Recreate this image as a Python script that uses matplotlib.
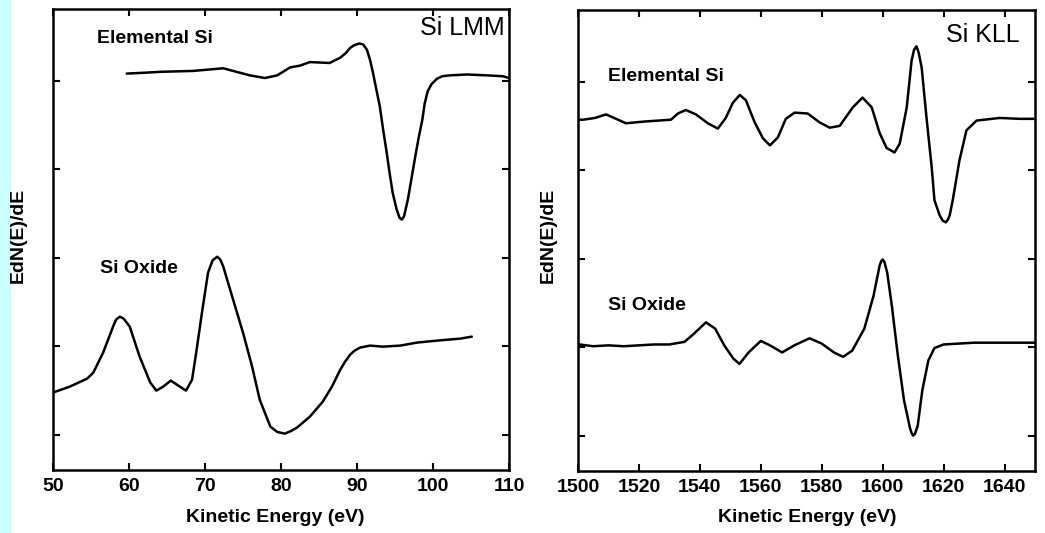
import matplotlib
matplotlib.use("Agg")
import matplotlib.pyplot as plt
from matplotlib.patches import Rectangle

plt.rcParams['font.family'] = ['Liberation Sans', 'DejaVu Sans']

# ---- Si LMM (left panel) ----
lmm_elem_E = [59.7, 62.1, 64.1, 68.4, 72.4, 73.7, 75.9, 77.9, 79.5, 81.2, 82.5, 83.8,
              86.4, 87.8, 88.5, 89.1, 89.6, 90.3, 90.8, 91.3, 91.7, 92.1, 92.5, 93.0,
              93.4, 93.9, 94.3, 94.7, 95.2, 95.6, 95.9, 96.2, 96.7, 97.1, 97.6, 98.1,
              98.6, 98.9, 99.3, 99.8, 100.5, 101.2, 102.2, 104.5, 107.1, 109.2, 110.0]
lmm_elem_I = [4.08, 4.09, 4.10, 4.11, 4.14, 4.11, 4.06, 4.03, 4.06, 4.15, 4.17, 4.21,
              4.20, 4.26, 4.31, 4.37, 4.40, 4.42, 4.41, 4.35, 4.24, 4.09, 3.92, 3.71,
              3.47, 3.19, 2.95, 2.73, 2.55, 2.45, 2.43, 2.47, 2.66, 2.86, 3.11, 3.35,
              3.56, 3.74, 3.88, 3.96, 4.02, 4.05, 4.06, 4.07, 4.06, 4.05, 4.03]

lmm_ox_E = [50.0, 52.2, 54.5, 55.3, 56.6, 57.9, 58.3, 58.8, 59.3, 60.1, 61.4, 62.8,
            63.6, 64.5, 65.5, 66.7, 67.5, 68.3, 68.9, 69.6, 70.4, 71.0, 71.6, 72.0,
            72.4, 73.7, 75.0, 76.2, 77.2, 78.6, 79.5, 80.5, 81.3, 82.1, 83.8, 85.5,
            86.7, 87.8, 88.4, 89.1, 89.7, 90.4, 91.7, 93.4, 95.7, 97.9, 100.5, 103.6,
            105.1]
lmm_ox_I = [0.475, 0.542, 0.633, 0.70, 0.927, 1.22, 1.30, 1.333, 1.31, 1.22, 0.881,
            0.588, 0.497, 0.542, 0.61, 0.542, 0.497, 0.621, 0.96, 1.379, 1.83, 1.97,
            2.01, 1.98, 1.90, 1.525, 1.153, 0.768, 0.395, 0.09, 0.03, 0.011, 0.04,
            0.079, 0.203, 0.373, 0.542, 0.734, 0.82, 0.904, 0.95, 0.983, 1.006, 0.994,
            1.006, 1.04, 1.062, 1.085, 1.107]

lmm_xticks = [50, 60, 70, 80, 90, 100, 110]

# ---- Si KLL (right panel) ----
kll_elem_E = [1500.7, 1501.6, 1505.6, 1509.2, 1512.5, 1515.7, 1522.0, 1530.5, 1532.8,
              1535.4, 1538.7, 1542.6, 1545.9, 1548.5, 1550.8, 1553.1, 1555.1, 1558.0,
              1560.7, 1563.0, 1565.6, 1568.2, 1571.1, 1575.4, 1579.3, 1582.6, 1585.9,
              1590.2, 1593.4, 1596.4, 1599.0, 1601.3, 1603.9, 1605.6, 1607.9, 1609.5,
              1610.3, 1611.1, 1611.8, 1612.8, 1614.4, 1616.1, 1617.0, 1618.7, 1619.7,
              1620.7, 1621.4, 1622.0, 1623.0, 1625.2, 1627.5, 1630.8, 1638.4, 1644.9,
              1649.5]
kll_elem_I = [3.57, 3.57, 3.59, 3.63, 3.58, 3.53, 3.55, 3.57, 3.64, 3.68, 3.63, 3.53,
              3.47, 3.59, 3.76, 3.85, 3.79, 3.54, 3.36, 3.28, 3.37, 3.58, 3.65, 3.64,
              3.54, 3.48, 3.50, 3.71, 3.82, 3.71, 3.42, 3.25, 3.20, 3.30, 3.71, 4.24,
              4.36, 4.40, 4.33, 4.16, 3.59, 3.03, 2.66, 2.49, 2.43, 2.41, 2.44, 2.49,
              2.66, 3.11, 3.45, 3.56, 3.59, 3.58, 3.58]

kll_ox_E = [1500.5, 1505, 1510, 1515, 1520, 1525, 1530, 1535, 1538, 1542, 1545, 1548,
            1551, 1553, 1556, 1560, 1563, 1567, 1571, 1576, 1580, 1584, 1587, 1590,
            1594, 1597, 1599, 1599.5, 1600, 1600.6, 1601.5, 1603, 1605, 1607, 1609,
            1609.5, 1610, 1610.6, 1611.5, 1613, 1615, 1617, 1620, 1630, 1640, 1650]
kll_ox_I = [1.03, 1.01, 1.02, 1.01, 1.02, 1.03, 1.03, 1.06, 1.15, 1.28, 1.21, 1.02,
            0.87, 0.81, 0.94, 1.07, 1.02, 0.94, 1.02, 1.10, 1.04, 0.94, 0.89, 0.96,
            1.21, 1.58, 1.92, 1.97, 1.99, 1.96, 1.84, 1.47, 0.90, 0.40, 0.08, 0.03,
            0.00, 0.02, 0.11, 0.51, 0.85, 0.99, 1.03, 1.05, 1.05, 1.05]

kll_xticks = [1500, 1520, 1540, 1560, 1580, 1600, 1620, 1640]

y_ticks = [0, 1, 2, 3, 4]

W, H = 1045, 533
fig = plt.figure(figsize=(W / 100, H / 100), dpi=100)
fig.patch.set_facecolor('white')

# cyan margin strip at the left edge
fig.patches.append(Rectangle((0, 0), 11 / W, 1, transform=fig.transFigure,
                             facecolor='#ccffff', edgecolor='none', zorder=0))

ax1 = fig.add_axes([53 / W, (H - 470) / H, 456 / W, 461 / H])
ax2 = fig.add_axes([578 / W, (H - 471) / H, 457 / W, 461 / H])

line_kw = dict(color='black', lw=1.8, solid_joinstyle='round', solid_capstyle='round')
ax1.plot(lmm_elem_E, lmm_elem_I, **line_kw)
ax1.plot(lmm_ox_E, lmm_ox_I, **line_kw)
ax2.plot(kll_elem_E, kll_elem_I, **line_kw)
ax2.plot(kll_ox_E, kll_ox_I, **line_kw)

ax1.set_xlim(50, 110)
ax2.set_xlim(1500, 1650)
ax1.set_xticks(lmm_xticks)
ax2.set_xticks(kll_xticks)

for ax in (ax1, ax2):
    ax.set_ylim(-0.4, 4.81)
    ax.set_yticks(y_ticks)
    ax.set_yticklabels([])
    ax.tick_params(direction='in', length=5, width=1.5, top=True, right=True,
                   labelsize=14, pad=6, colors='black')
    for lab in ax.get_xticklabels():
        lab.set_fontweight('bold')
    for s in ax.spines.values():
        s.set_linewidth(1.8)

small = dict(fontsize=14, fontweight='bold', va='center')
big = dict(fontsize=18, ha='right', va='center')

ax1.text(0.0965, 0.937, 'Elemental Si', transform=ax1.transAxes, ha='left', **small)
ax1.text(0.991, 0.959, 'Si LMM', transform=ax1.transAxes, **big)
ax1.text(0.103, 0.438, 'Si Oxide', transform=ax1.transAxes, ha='left', **small)

ax2.text(0.0656, 0.855, 'Elemental Si', transform=ax2.transAxes, ha='left', **small)
ax2.text(0.967, 0.946, 'Si KLL', transform=ax2.transAxes, **big)
ax2.text(0.0656, 0.36, 'Si Oxide', transform=ax2.transAxes, ha='left', **small)

for xp in (18, 548):
    fig.text(xp / W, 1 - 235 / H, 'EdN(E)/dE', rotation=90, ha='center',
             va='center', fontsize=14, fontweight='bold')
for xp in (275, 807):
    fig.text(xp / W, 1 - 518 / H, 'Kinetic Energy (eV)', ha='center', va='center',
             fontsize=14, fontweight='bold')

fig.savefig('out.png', dpi=100)
